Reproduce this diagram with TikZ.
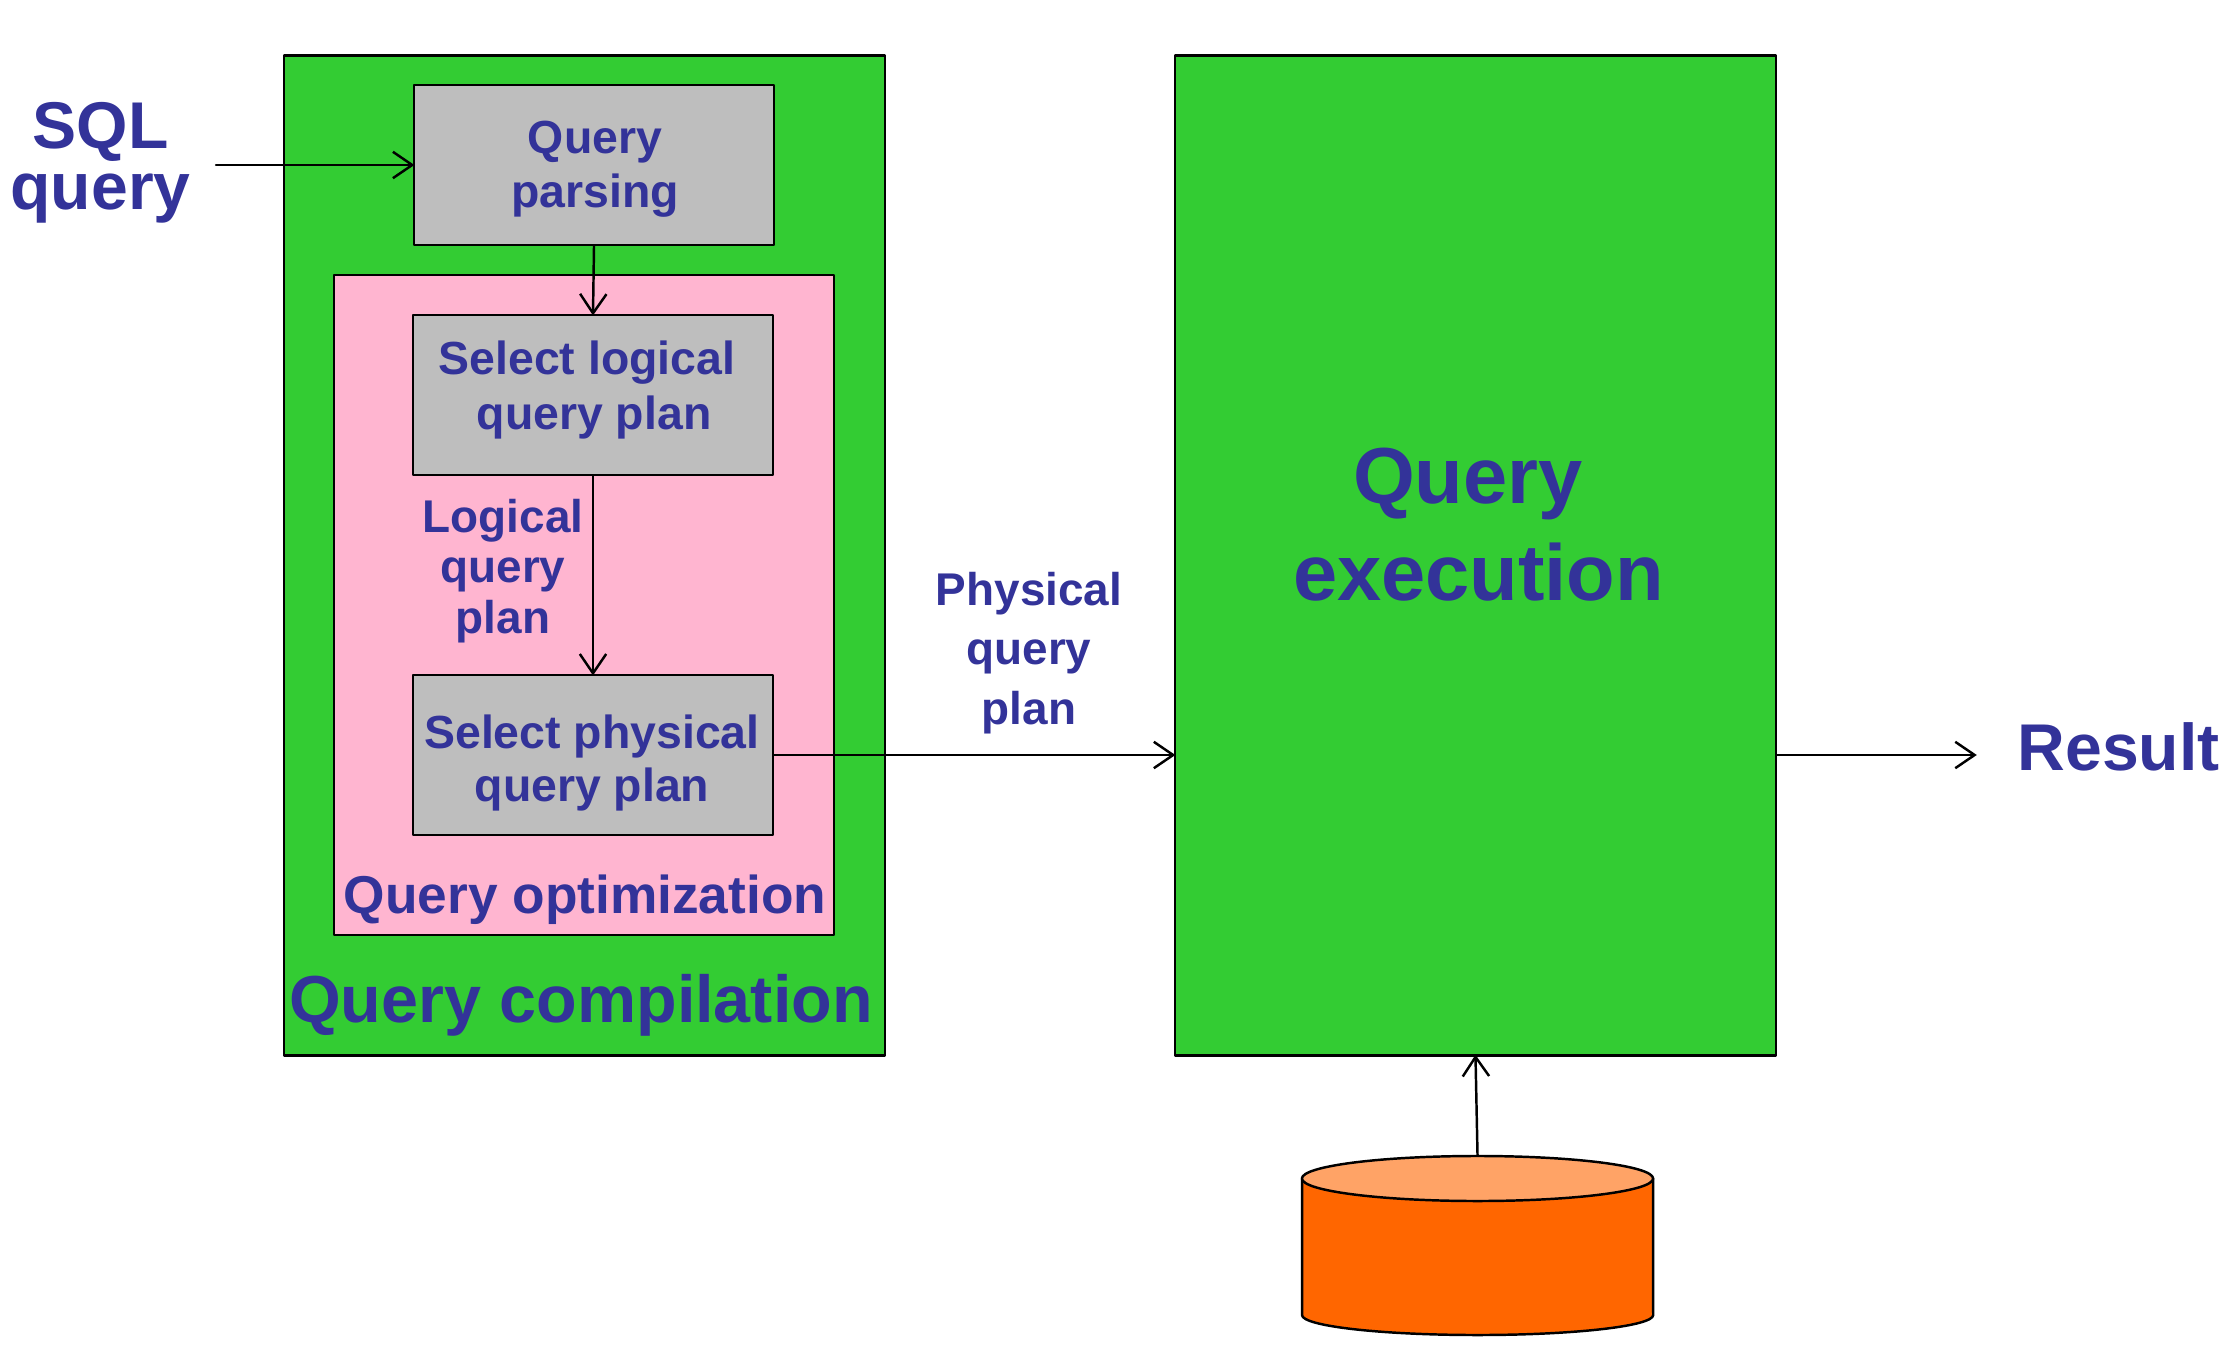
\documentclass[tikz,border=0pt]{standalone}
\usepackage{fontspec}
\setsansfont{Liberation Sans}
\usetikzlibrary{arrows.meta,shapes.geometric}
\definecolor{stagegreen}{HTML}{33CC33}
\definecolor{optpink}{HTML}{FFB5D0}
\definecolor{stepgray}{HTML}{BEBEBE}
\definecolor{labelblue}{HTML}{333399}
\definecolor{dbbody}{HTML}{FF6600}
\definecolor{dbtop}{HTML}{FFA366}
\tikzset{
  frame/.style={draw=black,line width=0.7pt,inner sep=0pt},
  stagebox/.style={frame,fill=stagegreen},
  optbox/.style={frame,fill=optpink},
  stepbox/.style={frame,fill=stepgray,minimum width=3.6cm,minimum height=1.6cm},
  flow/.style={line width=0.7pt,shorten >=-0.5pt,-{Straight Barb[length=5.5pt,width=7.5pt,line width=0.7pt]}},
  txt/.style 2 args={text=labelblue,align=center,inner sep=0pt,font=\sffamily\bfseries\fontsize{#1}{#2}\selectfont}
}
\begin{document}
\begin{tikzpicture}[line cap=round,line join=round,x=0.01cm,y=-0.01cm]
	\useasboundingbox (0,0) rectangle (2228,1352);
	% large boxes
	\node [stagebox,minimum width=6.01cm,minimum height=9.99cm] (compile) at (584.5,555.5) {};
	\node [stagebox,minimum width=6.01cm,minimum height=9.99cm] (exec) at (1475.5,555.5) {};
	\node [optbox,minimum width=5cm,minimum height=6.6cm] (optim) at (584,605) {};
	% steps
	\node [stepbox] (parsing) at (594,165) {};
	\node [stepbox] (logical) at (593,395) {};
	\node [stepbox] (physical) at (593,755) {};
	% database
	\draw [fill=dbbody,line width=0.7pt] (1302,1178.5) -- (1302,1315) arc [start angle=180,end angle=360,x radius=1.755cm,y radius=0.2cm] -- (1653,1178.5) -- cycle;
	\node [frame,ellipse,fill=dbtop,minimum width=3.51cm,minimum height=0.45cm] (dblid) at (1477.5,1178.5) {};
	% texts
	\node [txt={18.8}{17.4}] (sqltxt) at (100.5,163) {SQL\\query};
	\node [txt={13.2}{15.4}] (parsingtxt) at (595,169) {Query\\parsing};
	\node [txt={13.2}{15.4}] (logicaltxt) at (587,390) {Select logical\\\hspace*{4pt}query plan};
	\node [txt={13.2}{15.2}] (physicaltxt) at (592,763) {Select physical\\query plan};
	\node [txt={13.05}{14.3}] (lqptxt) at (503,571) {Logical\\query\\plan};
	\node [txt={13.05}{17}] (pqptxt) at (1029,653) {Physical\\query\\plan};
	\node [txt={15.15}{18}] (optimtxt) at (585,900) {Query optimization};
	\node [txt={18.9}{23}] (compiletxt) at (581,1005) {Query compilation};
	\node [txt={22.6}{27.5}] (exectxt) at (1478.5,524.5) {Query\hspace*{6pt}\\execution};
	\node [txt={18.8}{22}] (resulttxt) at (2118.5,746.5) {Result};
	% connectors
	\coordinate (sqlend) at (216,165);
	\coordinate (resend) at (1975,755);
	\draw [flow] (sqlend) -- (parsing.west);
	\draw [flow] (parsing.south) -- (logical.north);
	\draw [flow] (logical.south) -- (physical.north);
	\draw [flow] (physical.east) -- (physical.east -| exec.west);
	\draw [flow] (exec.east |- resend) -- (resend);
	\draw [flow] (dblid.north) -- (exec.south);
\end{tikzpicture}
\end{document}
